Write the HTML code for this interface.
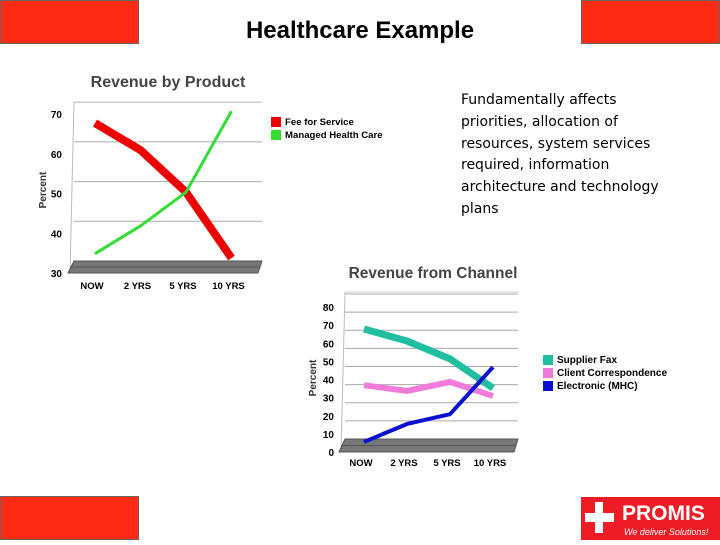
<!DOCTYPE html>
<html><head><meta charset="utf-8"><style>
body{margin:0;width:720px;height:540px;background:#fff;overflow:hidden;font-family:"Liberation Sans",sans-serif}
</style></head><body>
<svg width="720" height="540" viewBox="0 0 720 540" xmlns="http://www.w3.org/2000/svg" font-family="Liberation Sans, sans-serif">
<rect x="0.5" y="0.5" width="138" height="43" fill="#ff2a12" stroke="#666"/>
<rect x="581.5" y="0.5" width="138" height="43" fill="#ff2a12" stroke="#666"/>
<rect x="0.5" y="496.5" width="138" height="43" fill="#ff2a12" stroke="#666"/>
<g>
<rect x="581" y="497" width="139" height="43" fill="#ee1c25"/>
<rect x="595" y="502" width="8" height="31" fill="#fff"/><rect x="585" y="513" width="29" height="9" fill="#fff"/>
<text x="622" y="520" font-size="21" font-weight="bold" fill="#fff">PROMIS</text>
<text x="624" y="535" font-size="9" font-style="italic" fill="#fff">We deliver Solutions!</text>
</g>
<text x="360" y="38" text-anchor="middle" font-size="24" font-weight="bold">Healthcare Example</text>
<text font-size="14" fill="#000" font-family="DejaVu Sans, sans-serif">
<tspan x="461" y="104">Fundamentally affects</tspan><tspan x="461" y="126">priorities, allocation of</tspan><tspan x="461" y="148">resources, system services</tspan><tspan x="461" y="169">required, information</tspan><tspan x="461" y="191">architecture and technology</tspan><tspan x="461" y="213">plans</tspan></text>
<g id="c1"></g><g id="c2"></g>
</svg>
<script>
const cats=["NOW","2 YRS","5 YRS","10 YRS"];
const feeForService=[66.5,59.7,49.1,32.5];
const managedCare=[33.6,40.6,49.1,69.5];
const ticks1=[30,40,50,60,70];
const supplierFax=[64,57.4,47.5,31.4];
const clientCorr=[33,29.8,34.8,27];
const electronic=[1.7,11.6,17,43];
const ticks2=[0,10,20,30,40,50,60,70,80];
const NS="http://www.w3.org/2000/svg";
function mk(p,t,a,txt){const e=document.createElementNS(NS,t);for(const k in a)e.setAttribute(k,a[k]);if(txt!=null)e.textContent=txt;p.appendChild(e);return e;}
function chart(g,o){
  const ys=v=>o.y0-(v-o.vmin)*o.k;
  const xs=i=>o.x0+i*o.dx;
  const t=mk(g,'text',{x:o.tx,y:o.ty,'text-anchor':'middle','font-size':o.tfs,'font-weight':'bold',fill:'#444'},o.title);
  
  mk(g,'line',{x1:o.ax,y1:o.y0,x2:o.ax+4,y2:o.top,stroke:'#bbb'});
  o.ticks.forEach(v=>{
    const l=mk(g,'text',{x:o.lx,y:ys(v)+4,'text-anchor':'end','font-size':10,'font-weight':'bold'},v);
    
    if(v>o.vmin){const gl=mk(g,'line',{x1:o.ax+4,y1:ys(v)-o.off,x2:o.gx2,y2:ys(v)-o.off,stroke:'#aaa'});
    }
  });
  mk(g,'line',{x1:o.ax+4,y1:o.top,x2:o.gx2,y2:o.top,stroke:'#ccc'});
  const fl=mk(g,'polygon',{points:`${o.ax-2},${o.y0} ${o.gx2-4},${o.y0} ${o.gx2},${o.y0-o.off} ${o.ax+4},${o.y0-o.off}`,fill:'#777',stroke:'#555'});
  
  mk(g,'line',{x1:o.ax,y1:o.y0-o.off/2,x2:o.gx2-2,y2:o.y0-o.off/2,stroke:'#555'});
  const yt=mk(g,'text',{x:0,y:0,transform:`translate(${o.ytx},${o.yty}) rotate(-90)`,'text-anchor':'middle','font-size':10,'font-weight':'bold',fill:'#333'},'Percent');
  
  cats.forEach((c,i)=>{const l=mk(g,'text',{x:xs(i)-3,y:o.y0+o.xly,'text-anchor':'middle','font-size':9.5,'font-weight':'bold'},c);
    });
  o.series.forEach((s,j)=>{
    const pts=s.d.map((v,i)=>xs(i)+','+(ys(v)-o.loff)).join(' ');
    const p=mk(g,'polyline',{points:pts,fill:'none',stroke:s.c,'stroke-width':s.w,'stroke-linejoin':'round'});
    
    const r=mk(g,'rect',{x:o.legx,y:o.legy+j*o.legdy,width:10,height:10,fill:s.c});
    
    const tx=mk(g,'text',{x:o.legx+14,y:o.legy+j*o.legdy+8,'font-size':o.lfs,'font-weight':'bold'},s.n);
    
  });
}
chart(document.getElementById('c1'),{title:'Revenue by Product',tx:168,ty:87,tfs:16,vmin:30,k:3.97,y0:273,x0:95,dx:45.5,ax:70,top:102,gx2:262,off:12,loff:5,lx:62,ytx:46,yty:190,ticks:ticks1,xly:16,lfs:9.6,
 legx:271,legy:117,legdy:13,series:[{n:'Fee for Service',d:feeForService,c:'#ee0000',w:8},{n:'Managed Health Care',d:managedCare,c:'#33dd33',w:3}]});
chart(document.getElementById('c2'),{title:'Revenue from Channel',tx:433,ty:278,tfs:15.5,vmin:0,k:1.8125,y0:452,x0:364,dx:43,ax:341,top:292,gx2:518,off:13,loff:7,lx:334,ytx:316,yty:378,ticks:ticks2,xly:14,lfs:10,
 legx:543,legy:355,legdy:13,series:[{n:'Supplier Fax',d:supplierFax,c:'#1fbfa0',w:7},{n:'Client Correspondence',d:clientCorr,c:'#f07bd8',w:6},{n:'Electronic (MHC)',d:electronic,c:'#0a10d0',w:4}]});
</script>
</body></html>
